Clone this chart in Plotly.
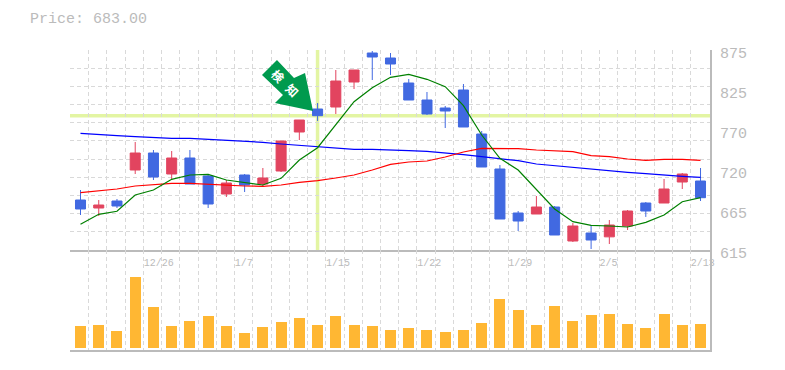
import plotly.graph_objects as go

# --- data ---
candle_idx = list(range(35))
opens  = [680,669.6,678.7,719,741.1,713.8,734.6,711.2,687.8,712.5,700.8,717.7,768.4,798.3,800.9,833.4,871.1,864.6,832.1,810,799.6,823,765.8,720.3,663.1,661.8,670.9,626.7,637.1,632.1,646.2,676.1,676.1,703.4,704.7]
highs  = [693,680,681.3,755.4,745,743.7,745,712.5,706,713.8,721.6,756.7,784,806.1,849,849,873.7,871.1,837.3,820.4,802.2,830.8,769.7,725.5,665.7,685.2,672.2,650.1,647.5,654,667,677.4,707.3,715.1,721.6]
lows   = [660.5,659.2,669.6,713.8,706,707.3,700.8,669.6,683.9,690.4,696.9,716.4,758,782.7,791.8,824.3,836,842.5,810,790.5,773.6,774.9,722.9,655.3,639.7,661.8,634.5,625.4,616.3,622.8,641,658,676.1,694.3,678.7]
closes = [668.3,673.5,672.2,741.1,709.9,734.6,700.8,674.8,702.1,699.5,708.6,756.7,784,789.6,834.7,849,865.9,856.8,810,791.8,795.7,774.9,722.9,655.3,652.7,670.9,634.5,646.2,628,647.5,665.7,665.7,694.3,713.8,683]
ma_green = [648.4,661.4,665.3,686.5,693,706.9,712.5,713.4,706,703,699.5,708.2,732,748,777.5,807.8,826,839.5,843.4,836.9,827.3,802.6,764.5,734.2,719,693,668.3,651.8,647.1,646.2,644.9,651,660.5,677.8,683]
ma_blue  = [766.7,764.9,763.6,762.3,761,760.2,760.2,758.9,758.4,757.1,755,752.8,751.1,748.9,747.2,745.9,745.9,744.6,744.1,743.3,741.5,738.9,736.3,733.3,731.1,726.8,724.6,722,720.3,717.7,716,714.2,712.1,710.8,709.5]
ma_red   = [689.5,692.1,694.3,698.2,700.4,701.7,701.7,700.4,699.5,698.2,697.8,699.5,703,705.1,708.6,712.5,719,726.2,729.4,730.7,735.9,742.4,747.2,747.2,746.7,745,743.7,742.8,737.6,736.3,733.3,731.6,732.9,732.9,731.6]
volumes  = [22,23,17,71,41,22,27,32,22,15,21,26,30,23,32,23,22,18,20,18,16,18,25,49,38,23,42,27,33,34,24,20,34,23,24]
price_ticks = [875,823,771,719,667,615]
price_labels = ["875","825","770","720","665","615"]
date_labels = ["12/26","1/7","1/15","1/22","1/29","2/5","2/13"]
date_idx = [4,9,14,19,24,29,34]
title_text = "Price: 683.00"
signal_text = "検\u00a0\u00a0\u00a0知"

GRAY = "#bbbbbb"; GRID = "#d9d9d9"; CROSS = "#e3f5a3"
XMIN, XMAX = -0.5758, 34.52   # x-range so the axes span the plot area
GRID_OFF = 0.548              # gridlines sit left of each candle
char_w = 6.1 / 18.235         # one tick-label character, in candle units
DASH = "4px,3px"

fig = go.Figure()
fig.add_trace(go.Bar(x=candle_idx, y=volumes, width=0.603, marker=dict(color="#ffb733", line_width=0),
                     xaxis="x2", yaxis="y2", showlegend=False))
fig.add_trace(go.Candlestick(x=candle_idx, open=opens, high=highs, low=lows, close=closes,
    increasing=dict(line=dict(color="#e2445f", width=1), fillcolor="#e2445f"),
    decreasing=dict(line=dict(color="#4169e1", width=1), fillcolor="#4169e1"),
    whiskerwidth=0, showlegend=False, xaxis="x", yaxis="y"))
for vals, col in ((ma_blue, "#0000ff"), (ma_red, "#ff0000"), (ma_green, "#008000")):
    fig.add_trace(go.Scatter(x=candle_idx, y=vals, mode="lines", line=dict(color=col, width=1.2),
                             showlegend=False, xaxis="x", yaxis="y"))

grid_x = [k - GRID_OFF for k in candle_idx]
label_x = [k - GRID_OFF + len(t) * char_w / 2 for k, t in zip(date_idx, date_labels)]
grid_y = [615 + i * 260 / 11 for i in range(12)]
minor_x = dict(tickmode="array", tickvals=grid_x, showgrid=True, gridcolor=GRID, griddash=DASH, gridwidth=1, ticks="")

fig.update_layout(
    width=785, height=370, margin=dict(l=70, r=75, t=50, b=20, autoexpand=False),
    paper_bgcolor="white", plot_bgcolor="white", boxgap=0.45, boxgroupgap=0, bargap=0,
    font=dict(family="Liberation Mono", color=GRAY),
    title=dict(text=title_text, x=30/785, xanchor="left", y=1-18/370, yanchor="middle",
               font=dict(family="Liberation Mono", size=15, color=GRAY)),
    xaxis=dict(domain=[0, 1], range=[XMIN, XMAX], anchor="y", rangeslider=dict(visible=False), automargin=False,
               tickmode="array", tickvals=label_x, ticktext=date_labels, showgrid=False, zeroline=False,
               ticks="outside", ticklen=2, tickcolor="rgba(0,0,0,0)",
               tickfont=dict(size=10, family="Liberation Mono", color=GRAY),
               showline=True, linecolor=GRAY, linewidth=2, minor=minor_x),
    xaxis2=dict(domain=[0, 1], range=[XMIN, XMAX], anchor="y2", showticklabels=False, ticks="", automargin=False,
                showgrid=False, zeroline=False, showline=True, linecolor=GRAY, linewidth=2, minor=minor_x),
    yaxis=dict(domain=[1/3, 1], range=[615, 875], side="right", anchor="x", automargin=False,
               tickmode="array", tickvals=price_ticks, ticktext=price_labels, ticks="",
               tickfont=dict(size=15, family="Liberation Mono", color=GRAY), ticklabelshift=3,
               ticklabelstandoff=5, showgrid=False, zeroline=False, showline=True, linecolor=GRAY, linewidth=2,
               minor=dict(tickmode="array", tickvals=grid_y, showgrid=True, gridcolor=GRID, griddash=DASH, gridwidth=1, ticks="")),
    yaxis2=dict(domain=[0, 1/3], range=[-2, 98], side="right", anchor="x2", showticklabels=False, ticks="", automargin=False,
                showgrid=False, zeroline=False, showline=True, linecolor=GRAY, linewidth=2),
    shapes=[
        dict(type="line", xref="x", yref="y", x0=13, x1=13, y0=615, y1=875, layer="below",
             line=dict(color=CROSS, width=3.5)),
        dict(type="line", xref="paper", yref="y", x0=0, x1=1, y0=closes[13], y1=closes[13], layer="below",
             line=dict(color=CROSS, width=3.5)),
        # signal arrow, in paper coordinates (pointing at the signal candle)
        dict(type="path", xref="paper", yref="paper", fillcolor="#009a4e", line=dict(width=0), layer="above",
             path="M %.4f %.4f L %.4f %.4f L %.4f %.4f L %.4f %.4f L %.4f %.4f L %.4f %.4f L %.4f %.4f Z" % tuple(
                 v for px, py in [(277,60),(262,75),(283,95),(275,103),(313,111),(305,73),(294,78)]
                 for v in ((px-70)/640, 1-(py-50)/300))),
    ],
    annotations=[
        dict(text=signal_text, xref="paper", yref="paper", x=(285.5-70)/640, y=1-(82-50)/300, showarrow=False,
             xanchor="center", yanchor="middle", textangle=45,
             font=dict(family="Noto Sans CJK JP", size=12, color="white", weight="bold")),
    ],
)
fig.write_html("out.html", config=dict(displayModeBar=False), post_script="document.body.style.margin='0';")
